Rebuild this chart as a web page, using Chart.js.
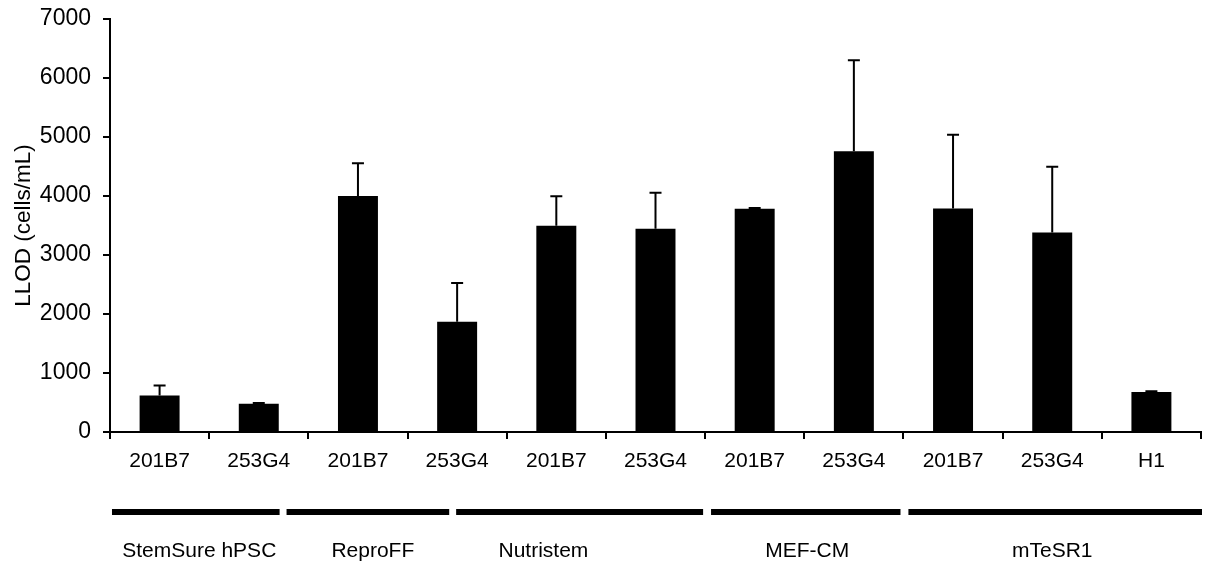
<!DOCTYPE html>
<html>
<head>
<meta charset="utf-8">
<script src="https://cdn.jsdelivr.net/npm/chart.js@4/dist/chart.umd.min.js"></script>
<style>
  html, body { margin: 0; padding: 0; background: #fff; }
  #wrap { width: 1209px; height: 564px; position: relative; }
</style>
</head>
<body>
<div id="wrap"><canvas id="c"></canvas></div>
<script>
// Cell lines tested in each medium
const categories = ['201B7', '253G4', '201B7', '253G4', '201B7', '253G4', '201B7', '253G4', '201B7', '253G4', 'H1'];
// Mean LLOD (cells/mL)
const values = [620, 480, 4000, 1870, 3495, 3445, 3785, 4760, 3790, 3380, 680];
// Upper error (SD)
const errors = [170, 10, 555, 655, 500, 610, 12, 1540, 1250, 1115, 12];
// Y axis ticks
const yTicks = [0, 1000, 2000, 3000, 4000, 5000, 6000, 7000];

// Culture media groups, spans given in category-index units
const groups = ['StemSure hPSC', 'ReproFF', 'Nutristem', 'MEF-CM', 'mTeSR1'];
const groupStart = [-0.48, 1.28, 2.99, 5.56, 7.55];
const groupEnd = [1.21, 2.92, 5.48, 7.47, 10.51];
const groupLabelAt = [0.40, 2.15, 3.87, 6.53, 9.00];

const FONT = '"Liberation Sans", Arial, sans-serif';

const errorBars = {
  id: 'errorBars',
  afterDatasetsDraw(chart) {
    const ctx = chart.ctx;
    const meta = chart.getDatasetMeta(0);
    const y = chart.scales.y;
    ctx.save();
    ctx.strokeStyle = '#000';
    ctx.lineWidth = 2;
    meta.data.forEach((bar, i) => {
      const base = y.getPixelForValue(values[i]);
      const top = y.getPixelForValue(values[i] + errors[i]);
      ctx.beginPath();
      ctx.moveTo(bar.x, base);
      ctx.lineTo(bar.x, top);
      ctx.moveTo(bar.x - 6, top);
      ctx.lineTo(bar.x + 6, top);
      ctx.stroke();
    });
    ctx.restore();
  }
};

const groupBrackets = {
  id: 'groupBrackets',
  afterDraw(chart) {
    const ctx = chart.ctx;
    const x = chart.scales.x;
    const bottom = chart.chartArea.bottom;
    ctx.save();
    ctx.fillStyle = '#000';
    groups.forEach((name, i) => {
      const x1 = x.getPixelForValue(groupStart[i]);
      const x2 = x.getPixelForValue(groupEnd[i]);
      ctx.fillRect(x1, bottom + 77, x2 - x1, 6);
      ctx.font = '21px ' + FONT;
      ctx.textAlign = 'center';
      ctx.textBaseline = 'middle';
      ctx.fillText(name, x.getPixelForValue(groupLabelAt[i]), bottom + 119);
    });
    ctx.restore();
  }
};

new Chart(document.getElementById('c'), {
  type: 'bar',
  data: {
    labels: categories,
    datasets: [{
      data: values,
      backgroundColor: '#000',
      borderWidth: 0,
      categoryPercentage: 1,
      barPercentage: 0.403
    }]
  },
  options: {
    responsive: true,
    maintainAspectRatio: false,
    animation: false,
    layout: { padding: { left: 0, top: 19, right: 8, bottom: 0 } },
    plugins: { legend: { display: false }, tooltip: { enabled: false } },
    scales: {
      x: {
        afterFit(s) { s.height = 132; s.paddingLeft = 0; s.paddingRight = 0; },
        grid: { drawOnChartArea: false, drawTicks: true, tickLength: 7, color: '#000', lineWidth: 2 },
        border: { display: true, color: '#000', width: 2 },
        ticks: { color: '#000', font: { family: FONT, size: 21 }, padding: 10, maxRotation: 0, autoSkip: false }
      },
      y: {
        min: 0,
        max: 7000,
        afterFit(s) { s.width = 110; s.paddingTop = 0; s.paddingBottom = 0; },
        afterBuildTicks(s) { s.ticks = yTicks.map(v => ({ value: v })); },
        grid: { drawOnChartArea: false, drawTicks: true, tickLength: 7, color: '#000', lineWidth: 2 },
        border: { display: true, color: '#000', width: 2 },
        ticks: { color: '#000', font: { family: FONT, size: 23 }, padding: 12, callback: v => String(v) },
        title: { display: true, text: 'LLOD (cells/mL)', color: '#000', font: { family: FONT, size: 22.5 }, padding: { top: 10, bottom: 0 } }
      }
    }
  },
  plugins: [errorBars, groupBrackets]
});
</script>
</body>
</html>
